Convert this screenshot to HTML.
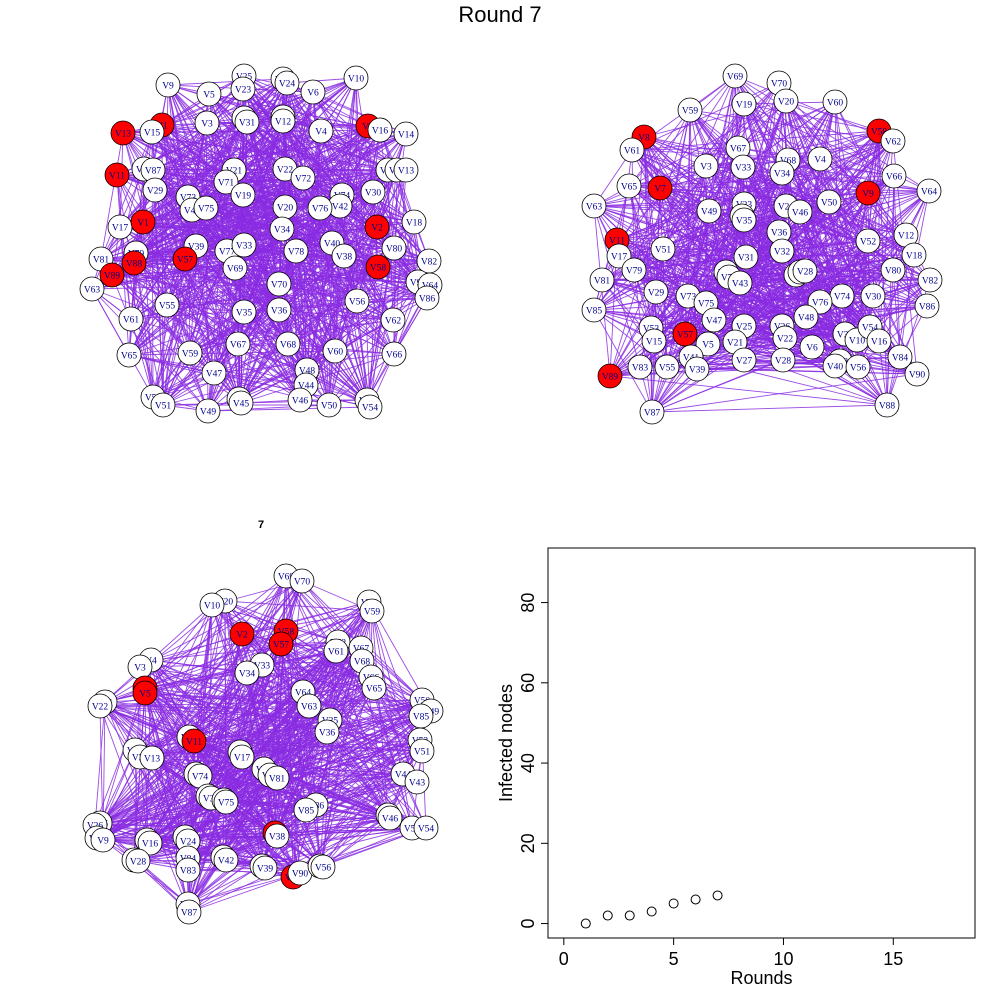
<!DOCTYPE html>
<html><head><meta charset="utf-8"><style>
html,body{margin:0;padding:0;background:#fff;}
svg{display:block;font-family:"Liberation Sans",sans-serif;}
</style></head><body>
<svg id="root" width="1000" height="1000" viewBox="0 0 1000 1000">
<text x="500" y="22" font-size="22" text-anchor="middle">Round 7</text>
<text x="261" y="528" font-size="11" font-weight="bold" text-anchor="middle">7</text>
<g id="net1"></g>
<g id="net2"></g>
<g id="net3"></g>
<g id="scatter"></g>
</svg>
<script>
const NS="http://www.w3.org/2000/svg";
const net1Nodes=[["V9",168,85,0],["V25",244,76,0],["V26",283,79,0],["V24",287,83,0],["V6",313,92,0],["V10",356,78,0],["V5",209,94,0],["V23",243,89,0],["V3",207,123,0],["V27",244,118,0],["V31",247,122,0],["V32",283,117,0],["V12",283,121,0],["V4",321,131,0],["V8",368,126,1],["V16",380,130,0],["V14",406,134,0],["V1",162,125,1],["V13",123,133,1],["V15",152,132,0],["V11",117,175,1],["V85",144,169,0],["V87",153,170,0],["V29",155,190,0],["V21",234,170,0],["V71",226,182,0],["V22",285,169,0],["V72",303,178,0],["V89",388,170,0],["V84",397,170,0],["V13",406,170,0],["V30",373,192,0],["V74",342,195,0],["V42",340,206,0],["V73",188,197,0],["V44",192,210,0],["V75",206,208,0],["V19",243,195,0],["V20",285,207,0],["V76",320,208,0],["V18",414,222,0],["V17",120,227,0],["V1",143,222,1],["V2",377,227,1],["V39",196,246,0],["V77",227,251,0],["V33",244,245,0],["V34",282,229,0],["V78",296,251,0],["V40",332,243,0],["V38",344,256,0],["V80",394,248,0],["V82",429,261,0],["V79",136,253,0],["V81",101,259,0],["V88",134,263,1],["V89",112,275,1],["V57",185,259,1],["V58",378,267,1],["V69",235,268,0],["V70",279,284,0],["V90",418,282,0],["V64",430,285,0],["V86",427,298,0],["V63",92,289,0],["V55",167,305,0],["V35",244,312,0],["V36",279,310,0],["V56",357,301,0],["V61",131,319,0],["V62",393,320,0],["V65",129,355,0],["V59",190,353,0],["V67",238,344,0],["V68",288,344,0],["V60",335,351,0],["V66",394,354,0],["V47",214,373,0],["V48",307,370,0],["V44",306,385,0],["V53",153,397,0],["V51",163,405,0],["V49",208,411,0],["V43",239,399,0],["V45",241,403,0],["V46",300,400,0],["V50",329,405,0],["V52",367,400,0],["V54",370,407,0]];
const net2Nodes=[["V69",735,76,0],["V70",779,83,0],["V19",744,104,0],["V20",786,101,0],["V60",835,102,0],["V59",690,110,0],["V58",879,131,1],["V62",893,141,0],["V8",644,137,1],["V61",632,150,0],["V67",738,148,0],["V68",788,160,0],["V4",820,159,0],["V3",706,166,0],["V33",743,167,0],["V34",782,173,0],["V66",894,176,0],["V64",929,191,0],["V65",629,186,0],["V7",660,188,1],["V9",868,193,1],["V63",594,206,0],["V49",709,211,0],["V23",744,204,0],["V24",786,206,0],["V46",800,212,0],["V50",829,202,0],["V45",742,216,0],["V35",744,220,0],["V36",779,232,0],["V12",906,235,0],["V52",868,241,0],["V18",914,255,0],["V11",617,240,1],["V17",619,256,0],["V51",663,249,0],["V31",746,257,0],["V32",782,251,0],["V80",893,270,0],["V82",930,280,0],["V81",602,280,0],["V79",634,270,0],["V71",726,272,0],["V72",729,277,0],["V43",740,283,0],["V78",796,275,0],["V77",800,272,0],["V28",805,271,0],["V29",656,292,0],["V73",688,296,0],["V75",706,303,0],["V74",842,296,0],["V76",820,302,0],["V30",873,296,0],["V86",927,306,0],["V48",806,317,0],["V47",714,320,0],["V85",594,310,0],["V53",651,328,0],["V15",654,341,0],["V57",685,334,1],["V25",744,326,0],["V26",782,326,0],["V38",845,334,0],["V10",857,340,0],["V54",870,327,0],["V16",879,341,0],["V22",785,338,0],["V5",708,344,0],["V21",735,342,0],["V6",812,347,0],["V84",900,357,0],["V41",691,357,0],["V39",697,369,0],["V28",783,360,0],["V27",744,360,0],["V42",840,361,0],["V40",835,366,0],["V56",858,367,0],["V90",917,374,0],["V83",640,367,0],["V55",667,367,0],["V89",610,376,1],["V87",652,412,0],["V88",887,405,0]];
const net3Nodes=[["V69",286,576,0],["V70",302,581,0],["V20",225,601,0],["V10",212,605,0],["V60",369,602,0],["V59",372,611,0],["V2",242,634,1],["V58",286,631,1],["V57",281,644,1],["V62",338,642,0],["V61",336,651,0],["V67",361,648,0],["V68",362,661,0],["V4",151,660,0],["V3",140,667,0],["V33",262,665,0],["V34",247,673,0],["V66",371,677,0],["V65",374,688,0],["V1",145,688,1],["V5",145,693,1],["V64",303,692,0],["V63",309,706,0],["V50",422,700,0],["V49",431,711,0],["V85",421,716,0],["V21",105,702,0],["V22",100,706,0],["V35",330,720,0],["V36",327,732,0],["V12",189,737,0],["V11",194,741,1],["V52",420,740,0],["V51",422,751,0],["V32",135,750,0],["V31",140,757,0],["V13",152,758,0],["V18",240,752,0],["V17",242,757,0],["V80",264,769,0],["V82",270,775,0],["V81",277,778,0],["V44",403,774,0],["V43",417,782,0],["V73",196,774,0],["V74",200,776,0],["V29",208,796,0],["V30",211,798,0],["V76",224,800,0],["V75",226,802,0],["V86",316,805,0],["V85",306,810,0],["V45",388,815,0],["V46",390,818,0],["V53",412,828,0],["V54",426,828,0],["V37",275,833,1],["V38",277,836,0],["V25",100,823,0],["V26",95,825,0],["V10",97,838,0],["V9",103,840,0],["V15",147,840,0],["V16",150,843,0],["V23",185,837,0],["V24",188,841,0],["V27",134,860,0],["V28",138,861,0],["V84",188,858,0],["V83",188,870,0],["V41",223,857,0],["V42",226,860,0],["V40",262,866,0],["V39",265,868,0],["V89",293,877,1],["V90",300,873,0],["V55",320,866,0],["V56",323,867,0],["V88",188,904,0],["V87",189,912,0]];

function drawNet(gid,nodes,seed){
  const g=document.getElementById(gid);
  const n=nodes.length;
  let s="";
  for(let i=0;i<n;i++)for(let j=i+1;j<n;j++){
    if(((i*31+j*17+seed)%11)<3){
      s+=`<line x1="${nodes[i][1]}" y1="${nodes[i][2]}" x2="${nodes[j][1]}" y2="${nodes[j][2]}"/>`;
    }
  }
  const eg=document.createElementNS(NS,"g");
  
  
  eg.setAttribute("stroke","#8a2be2");eg.setAttribute("stroke-width","0.9");eg.setAttribute("stroke-opacity","0.85");
  eg.innerHTML=s;g.appendChild(eg);
  nodes.forEach(nd=>{
    const c=document.createElementNS(NS,"circle");
    
    
    c.setAttribute("cx",nd[1]);c.setAttribute("cy",nd[2]);c.setAttribute("r",12);
    c.setAttribute("fill",nd[3]?"#ff0000":"#fff");c.setAttribute("stroke","#000");c.setAttribute("stroke-width","0.8");
    g.appendChild(c);
    const t=document.createElementNS(NS,"text");
    
    
    t.setAttribute("x",nd[1]);t.setAttribute("y",nd[2]+3.5);t.setAttribute("text-anchor","middle");
    t.setAttribute("font-size","9.5");t.setAttribute("font-family","Liberation Serif, serif");t.setAttribute("fill","#00008b");
    t.textContent=nd[0];g.appendChild(t);
  });
}
drawNet("net1",net1Nodes,0);
drawNet("net2",net2Nodes,3);
drawNet("net3",net3Nodes,7);

const rounds=[1,2,3,4,5,6,7];
const infected=[0,2,2,3,5,6,7];
const xTicks=[0,5,10,15];
const yTicks=[0,20,40,60,80];
(function(){
  const g=document.getElementById("scatter");
  const L=548,R=975,T=548,B=938;
  const xmin=-0.72,xmax=18.72,ymin=-3.6,ymax=93.6;
  const X=v=>L+(v-xmin)/(xmax-xmin)*(R-L);
  const Y=v=>B-(v-ymin)/(ymax-ymin)*(B-T);
  let h=`<rect x="${L}" y="${T}" width="${R-L}" height="${B-T}" fill="none" stroke="#000" stroke-width="1"/>`;
  h+=`<line x1="${X(0)}" y1="${B}" x2="${X(15)}" y2="${B}" stroke="#000"/>`;
  xTicks.forEach(v=>{h+=`<line x1="${X(v)}" y1="${B}" x2="${X(v)}" y2="${B+7}" stroke="#000"/><text x="${X(v)}" y="${B+27}" font-size="18" text-anchor="middle">${v}</text>`;});
  h+=`<line x1="${L}" y1="${Y(0)}" x2="${L}" y2="${Y(80)}" stroke="#000"/>`;
  yTicks.forEach(v=>{h+=`<line x1="${L-7}" y1="${Y(v)}" x2="${L}" y2="${Y(v)}" stroke="#000"/><text transform="translate(${L-14},${Y(v)}) rotate(-90)" font-size="18" text-anchor="middle">${v}</text>`;});
  h+=`<text x="${(L+R)/2}" y="984" font-size="18" text-anchor="middle">Rounds</text>`;
  h+=`<text transform="translate(512,${(T+B)/2}) rotate(-90)" font-size="18" text-anchor="middle">Infected nodes</text>`;
  g.innerHTML=h;
  rounds.forEach((r,i)=>{
    const c=document.createElementNS(NS,"circle");
    
    
    c.setAttribute("cx",X(r));c.setAttribute("cy",Y(infected[i]));c.setAttribute("r",4.5);
    c.setAttribute("fill","none");c.setAttribute("stroke","#000");
    g.appendChild(c);
  });
})();
</script>
</body></html>
